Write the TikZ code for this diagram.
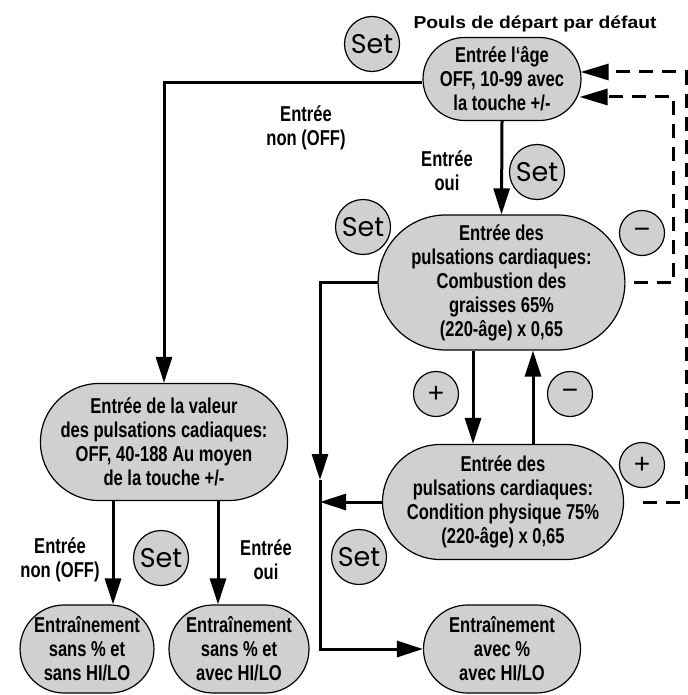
\documentclass[tikz,border=0pt]{standalone}
\usepackage{fontspec}
\setmainfont{Liberation Sans}
\newfontfamily\condfont{Liberation Sans}[FakeStretch=0.77]
\newfontfamily\titlefont{Liberation Sans}[FakeStretch=1.12]
\newfontfamily\btnfont{Poppins}
\usetikzlibrary{arrows.meta,shapes.misc}
\definecolor{nodegray}{RGB}{208,208,208}
\begin{document}
\begin{tikzpicture}[x=1pt,y=-1pt,
  state/.style={rounded rectangle, draw=black, line width=1.2pt, fill=nodegray,
    inner sep=0pt, align=center,
    font=\condfont\bfseries\fontsize{21.5}{24}\selectfont},
  setbtn/.style={circle, draw=black, line width=1.2pt, fill=nodegray,
    minimum size=55pt, inner sep=0pt, font=\btnfont\fontsize{27}{27}\selectfont},
  pmbtn/.style={circle, draw=black, line width=1.2pt, fill=nodegray,
    minimum size=45pt, inner sep=0pt, font=\fontsize{28}{28}\selectfont},
  lbl/.style={align=center, inner sep=0pt,
    font=\condfont\bfseries\fontsize{21.5}{24}\selectfont},
  flow/.style={line width=3pt, -{Triangle[length=26pt,width=16pt]}},
  dline/.style={line width=3pt, dash pattern=on 14pt off 9pt,
    -{Triangle[length=28pt,width=16pt]}}
]
\useasboundingbox (0,0) rectangle (687,695);

% title
\node[font=\titlefont\bfseries\fontsize{17.2}{20}\selectfont] (title) at (535,24) {Pouls de départ par défaut};

% main states
\node[state, minimum width=158pt, minimum height=83pt] (age) at (502,79)
  {Entrée l‘âge\\OFF, 10-99 avec\\la touche +/-};
\node[state, minimum width=243pt, minimum height=135pt] (comb) at (501.5,282.5)
  {Entrée des\\pulsations cardiaques:\\Combustion des\\graisses 65\%\\(220-âge) x 0,65};
\node[state, minimum width=241pt, minimum height=115pt] (cond) at (503,502)
  {Entrée des\\pulsations cardiaques:\\Condition physique 75\%\\(220-âge) x 0,65};
\node[state, minimum width=242pt, minimum height=117pt] (L) at (164,442)
  {Entrée de la valeur\\des pulsations cadiaques:\\OFF, 40-188 Au moyen\\de la touche +/-};
\node[state, minimum width=132pt, minimum height=88pt] (B1) at (87,649)
  {Entraînement\\sans \% et\\sans HI/LO};
\node[state, minimum width=140pt, minimum height=88pt] (B2) at (239,649)
  {Entraînement\\sans \% et\\avec HI/LO};
\node[state, minimum width=157pt, minimum height=88pt] (B3) at (502,649)
  {Entraînement\\avec \%\\avec HI/LO};

% labels
\node[lbl] (nonTop) at (306,128) {Entrée\\non (OFF)};
\node[lbl] (ouiTop) at (447,171) {Entrée\\oui};
\node[lbl] (nonBot) at (60,560) {Entrée\\non (OFF)};
\node[lbl] (ouiBot) at (266,560) {Entrée\\oui};

% buttons
\node[setbtn] (set1) at (372,44) {Set};
\node[setbtn] (set2) at (537,172) {Set};
\node[setbtn] (set3) at (363,227) {Set};
\node[setbtn] (set4) at (161,558) {Set};
\node[setbtn] (set5) at (359,557) {Set};
\node[pmbtn] (plusL) at (436,394) {+};
\node[pmbtn] (minusM) at (570,394) {−};
\node[pmbtn] (minusR) at (642,233) {−};
\node[pmbtn] (plusR) at (642,465) {+};

% junction coordinates
\coordinate (jArrow) at (320,480);

% connectors
\draw[flow] ([shift={(0,4)}]age.west) -| (L.north);
\draw[flow] (age.south) -- (comb.north);
\draw[flow] ([xshift=-28.5pt]comb.south) -- ([xshift=-30pt]cond.north);
\draw[flow] ([xshift=30pt]cond.north) -- ([xshift=31.5pt]comb.south);
\draw[flow] ([xshift=-51pt]L.south) -- ([xshift=26pt]B1.north);
\draw[flow] ([xshift=54pt]L.south) -- ([xshift=-21pt]B2.north);
\draw[flow] (comb.west) -| (jArrow);
\draw[flow] (jArrow) |- (B3.west);
\draw[flow] (cond.west) -- (cond.west -| jArrow);

% dashed feedback
\draw[dline] ([xshift=8pt]comb.east) -- ++(40,0) |- ([shift={(-2,18)}]age.east);
\draw[dline] ([xshift=19pt]cond.east) -- ++(43,0) |- ([shift={(-1,-7)}]age.east);
\end{tikzpicture}
\end{document}
